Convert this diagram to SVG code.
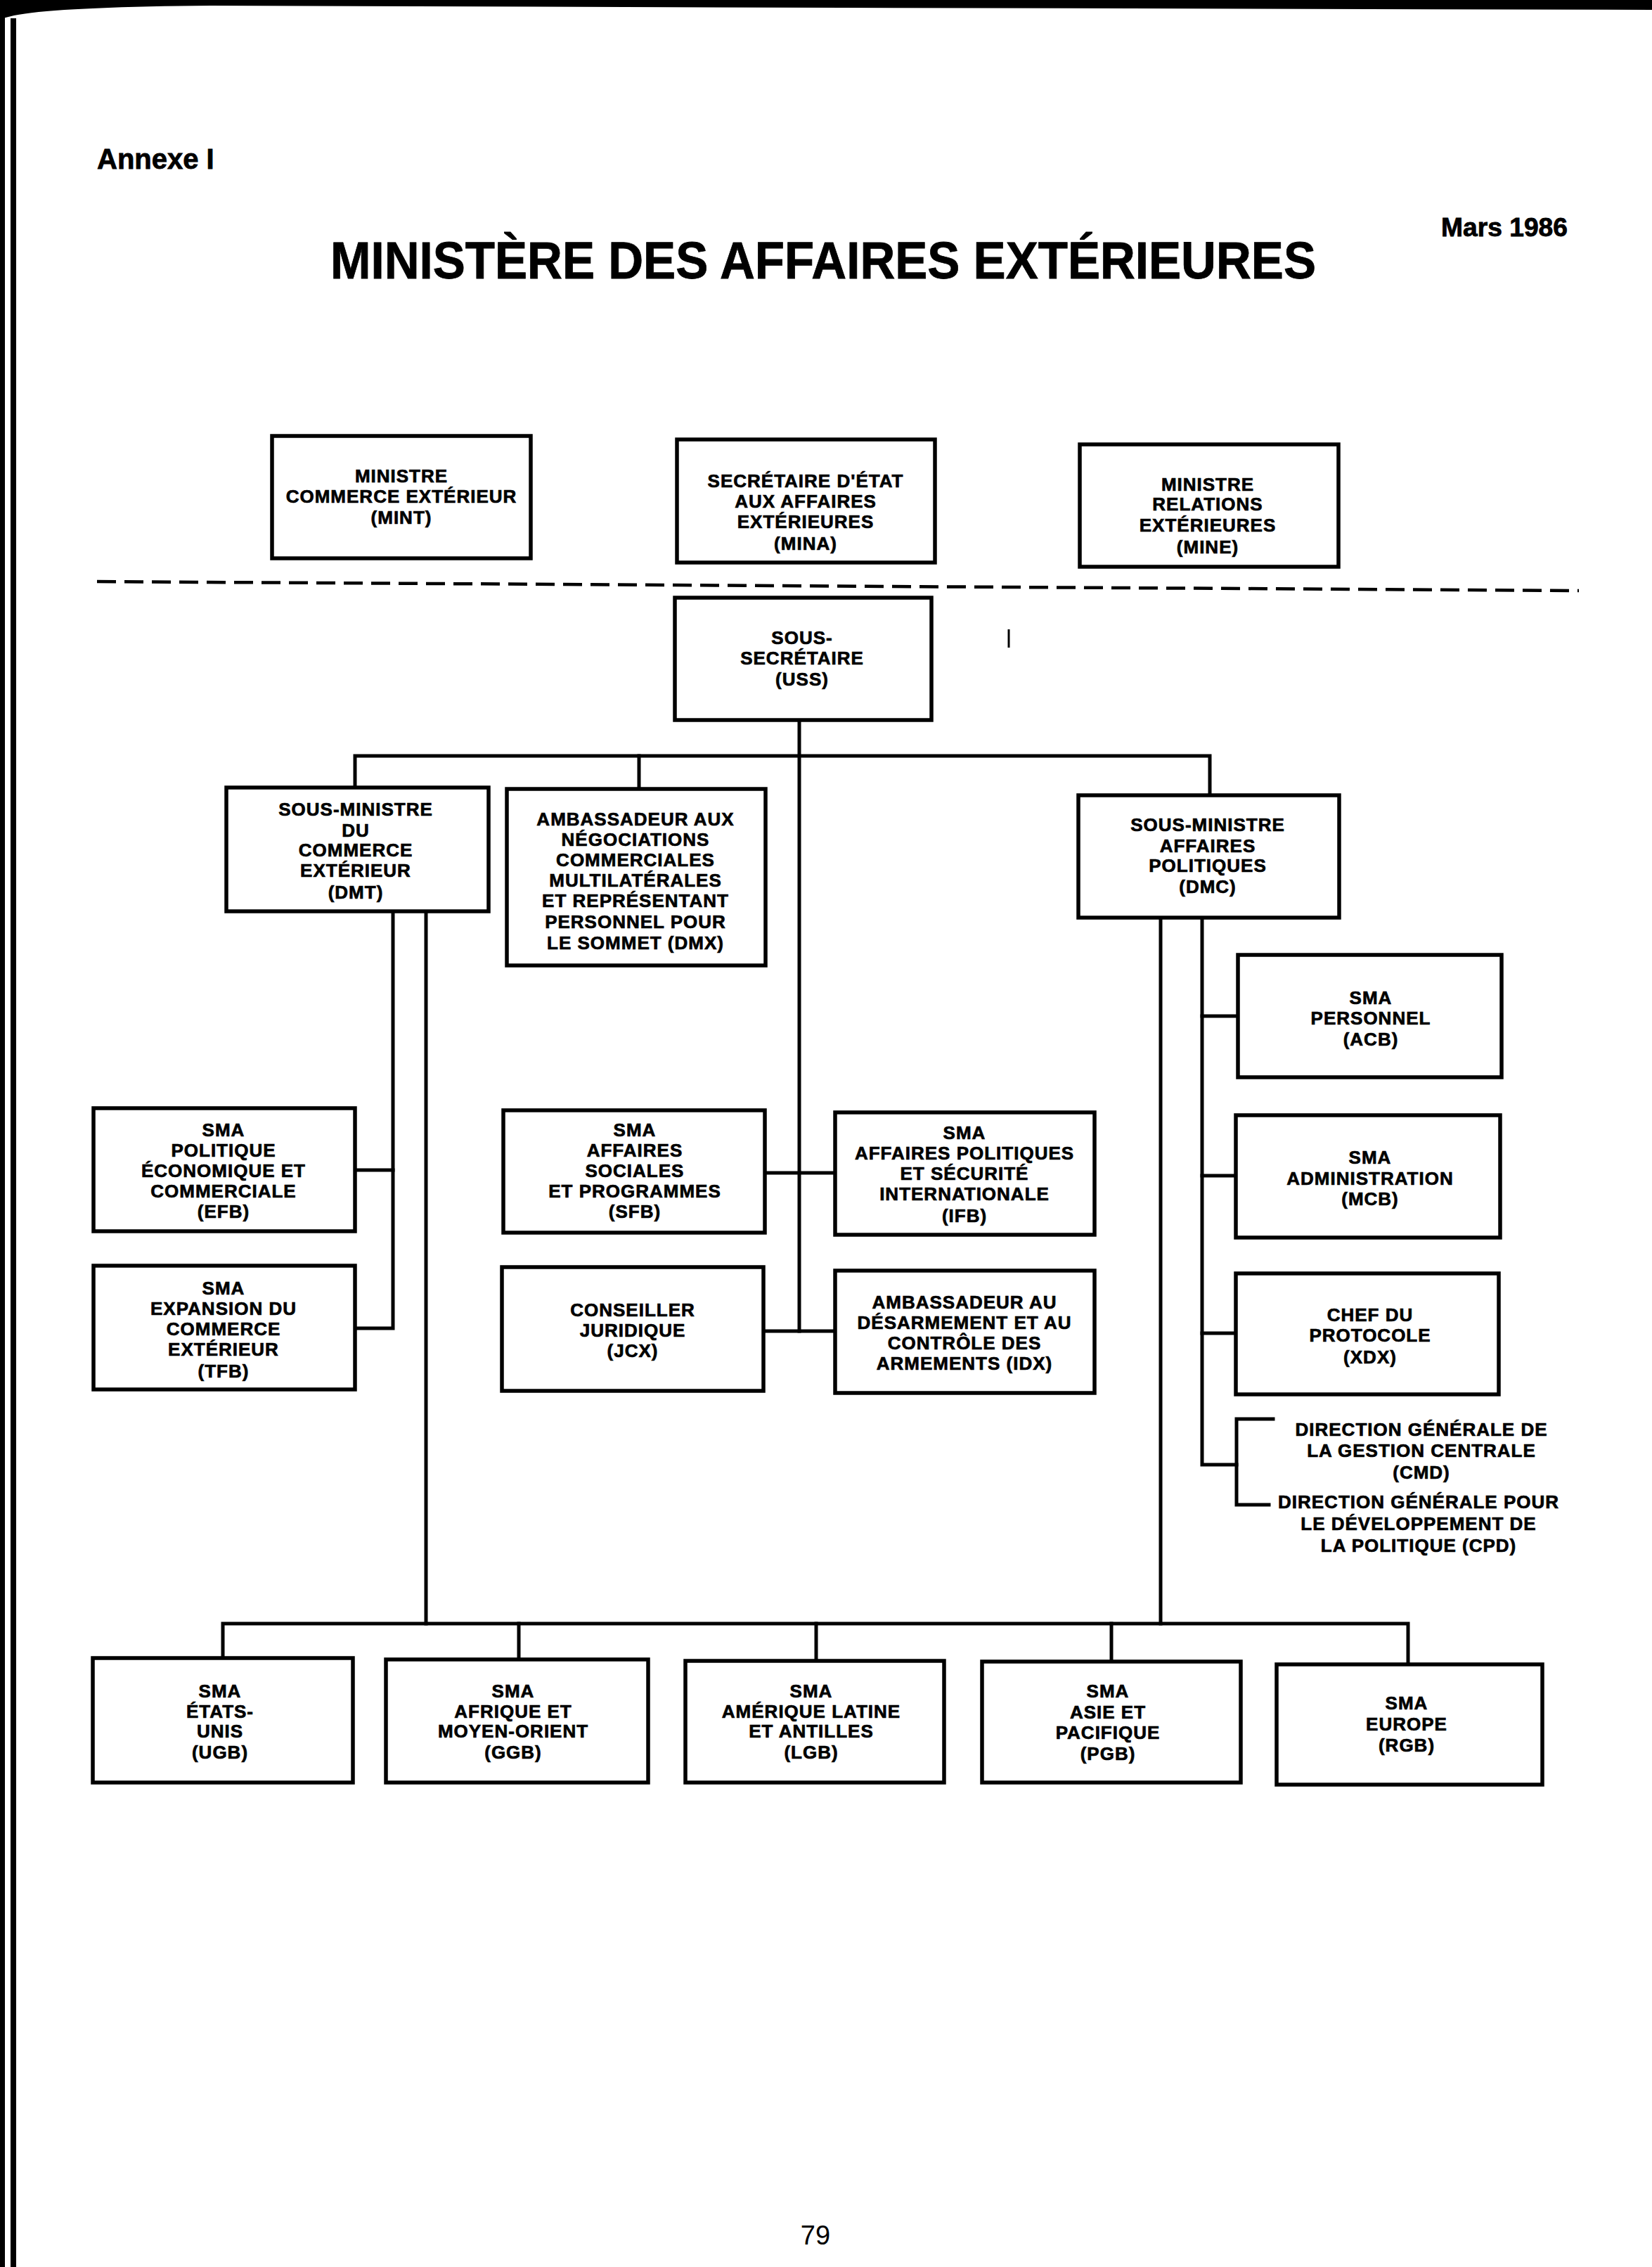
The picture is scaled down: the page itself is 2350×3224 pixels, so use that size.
<svg xmlns="http://www.w3.org/2000/svg" width="2350" height="3224" viewBox="0 0 2350 3224">
<style>
.bg{fill:#fff}
.box{fill:#fff;stroke:#000;stroke-width:5.5}
.ln{stroke:#000;stroke-width:5;fill:none;stroke-linecap:square}
.t{font-family:"Liberation Sans",Arial,sans-serif;font-weight:bold;font-size:26px;letter-spacing:1px;text-anchor:middle;fill:#000;stroke:#000;stroke-width:0.7}
.hd{font-family:"Liberation Sans",Arial,sans-serif;font-weight:bold;fill:#000;stroke:#000;stroke-width:0.8}
</style>
<rect class="bg" x="0" y="0" width="2350" height="3224"/>
<g id="page-edge">
<path d="M0 0 H2350 V14 L1200 11 L300 8 Q80 10 20 22 L0 27 Z" fill="#000"/>
<rect x="0" y="0" width="7" height="3224" fill="#000"/>
<rect x="15" y="26" width="8" height="3198" fill="#000"/>
<line x1="1435" y1="895" x2="1435" y2="921" stroke="#000" stroke-width="3"/>
</g>
<g id="header">
<text class="hd" x="138" y="240" font-size="40">Annexe I</text>
<text class="hd" x="2050" y="336" font-size="36" textLength="180" lengthAdjust="spacingAndGlyphs">Mars 1986</text>
<text class="hd" x="470" y="396" font-size="74" textLength="1402" lengthAdjust="spacingAndGlyphs" stroke-width="1.5">MINISTÈRE DES AFFAIRES EXTÉRIEURES</text>
</g>
<g id="connectors">
<line x1="138" y1="827" x2="2246" y2="840" stroke="#000" stroke-width="4.5" stroke-dasharray="27 12"/>
<path class="ln" d="M1137 1024 V1893"/>
<path class="ln" d="M505 1120 V1075 H1721 V1131"/>
<path class="ln" d="M909 1075 V1122"/>
<path class="ln" d="M1088 1668 H1188"/>
<path class="ln" d="M1086 1893 H1188"/>
<path class="ln" d="M559 1296 V1889 H505"/>
<path class="ln" d="M505 1664 H559"/>
<path class="ln" d="M606 1296 V2309"/>
<path class="ln" d="M1651 1305 V2309"/>
<path class="ln" d="M1710 1305 V2083 H1759"/>
<path class="ln" d="M1710 1445 H1761"/>
<path class="ln" d="M1710 1672 H1758"/>
<path class="ln" d="M1710 1896 H1758"/>
<path class="ln" d="M1811 2018 H1759 V2140 H1805"/>
<path class="ln" d="M317 2358 V2309 H2003 V2367"/>
<path class="ln" d="M738 2309 V2360"/>
<path class="ln" d="M1161 2309 V2362"/>
<path class="ln" d="M1581 2309 V2363"/>
</g>
<g id="MINT"><rect class="box" x="387" y="620" width="368" height="174"/>
<text class="t"><tspan x="571" y="686">MINISTRE</tspan><tspan x="571" y="715">COMMERCE EXTÉRIEUR</tspan><tspan x="571" y="745">(MINT)</tspan></text></g>
<g id="MINA"><rect class="box" x="963" y="625" width="367" height="175"/>
<text class="t"><tspan x="1146" y="693">SECRÉTAIRE D'ÉTAT</tspan><tspan x="1146" y="722">AUX AFFAIRES</tspan><tspan x="1146" y="751">EXTÉRIEURES</tspan><tspan x="1146" y="782">(MINA)</tspan></text></g>
<g id="MINE"><rect class="box" x="1536" y="632" width="368" height="174"/>
<text class="t"><tspan x="1718" y="698">MINISTRE</tspan><tspan x="1718" y="726">RELATIONS</tspan><tspan x="1718" y="756">EXTÉRIEURES</tspan><tspan x="1718" y="787">(MINE)</tspan></text></g>
<g id="USS"><rect class="box" x="960" y="850" width="365" height="174"/>
<text class="t"><tspan x="1141" y="916">SOUS-</tspan><tspan x="1141" y="945">SECRÉTAIRE</tspan><tspan x="1141" y="975">(USS)</tspan></text></g>
<g id="DMT"><rect class="box" x="322" y="1120" width="373" height="176"/>
<text class="t"><tspan x="506" y="1160">SOUS-MINISTRE</tspan><tspan x="506" y="1190">DU</tspan><tspan x="506" y="1218">COMMERCE</tspan><tspan x="506" y="1247">EXTÉRIEUR</tspan><tspan x="506" y="1278">(DMT)</tspan></text></g>
<g id="DMX"><rect class="box" x="721" y="1122" width="368" height="251"/>
<text class="t"><tspan x="904" y="1174">AMBASSADEUR AUX</tspan><tspan x="904" y="1203">NÉGOCIATIONS</tspan><tspan x="904" y="1232">COMMERCIALES</tspan><tspan x="904" y="1261">MULTILATÉRALES</tspan><tspan x="904" y="1290">ET REPRÉSENTANT</tspan><tspan x="904" y="1320">PERSONNEL POUR</tspan><tspan x="904" y="1350">LE SOMMET (DMX)</tspan></text></g>
<g id="DMC"><rect class="box" x="1534" y="1131" width="371" height="174"/>
<text class="t"><tspan x="1718" y="1182">SOUS-MINISTRE</tspan><tspan x="1718" y="1212">AFFAIRES</tspan><tspan x="1718" y="1240">POLITIQUES</tspan><tspan x="1718" y="1270">(DMC)</tspan></text></g>
<g id="ACB"><rect class="box" x="1761" y="1358" width="375" height="174"/>
<text class="t"><tspan x="1950" y="1428">SMA</tspan><tspan x="1950" y="1457">PERSONNEL</tspan><tspan x="1950" y="1487">(ACB)</tspan></text></g>
<g id="EFB"><rect class="box" x="133" y="1576" width="372" height="175"/>
<text class="t"><tspan x="318" y="1616">SMA</tspan><tspan x="318" y="1645">POLITIQUE</tspan><tspan x="318" y="1674">ÉCONOMIQUE ET</tspan><tspan x="318" y="1703">COMMERCIALE</tspan><tspan x="318" y="1732">(EFB)</tspan></text></g>
<g id="SFB"><rect class="box" x="716" y="1579" width="372" height="174"/>
<text class="t"><tspan x="903" y="1616">SMA</tspan><tspan x="903" y="1645">AFFAIRES</tspan><tspan x="903" y="1674">SOCIALES</tspan><tspan x="903" y="1703">ET PROGRAMMES</tspan><tspan x="903" y="1732">(SFB)</tspan></text></g>
<g id="IFB"><rect class="box" x="1188" y="1582" width="369" height="174"/>
<text class="t"><tspan x="1372" y="1620">SMA</tspan><tspan x="1372" y="1649">AFFAIRES POLITIQUES</tspan><tspan x="1372" y="1678">ET SÉCURITÉ</tspan><tspan x="1372" y="1707">INTERNATIONALE</tspan><tspan x="1372" y="1738">(IFB)</tspan></text></g>
<g id="MCB"><rect class="box" x="1758" y="1586" width="376" height="174"/>
<text class="t"><tspan x="1949" y="1655">SMA</tspan><tspan x="1949" y="1685">ADMINISTRATION</tspan><tspan x="1949" y="1714">(MCB)</tspan></text></g>
<g id="TFB"><rect class="box" x="133" y="1800" width="372" height="176"/>
<text class="t"><tspan x="318" y="1841">SMA</tspan><tspan x="318" y="1870">EXPANSION DU</tspan><tspan x="318" y="1899">COMMERCE</tspan><tspan x="318" y="1928">EXTÉRIEUR</tspan><tspan x="318" y="1959">(TFB)</tspan></text></g>
<g id="JCX"><rect class="box" x="714" y="1802" width="372" height="176"/>
<text class="t"><tspan x="900" y="1872">CONSEILLER</tspan><tspan x="900" y="1901">JURIDIQUE</tspan><tspan x="900" y="1930">(JCX)</tspan></text></g>
<g id="IDX"><rect class="box" x="1188" y="1807" width="369" height="174"/>
<text class="t"><tspan x="1372" y="1861">AMBASSADEUR AU</tspan><tspan x="1372" y="1890">DÉSARMEMENT ET AU</tspan><tspan x="1372" y="1919">CONTRÔLE DES</tspan><tspan x="1372" y="1948">ARMEMENTS (IDX)</tspan></text></g>
<g id="XDX"><rect class="box" x="1758" y="1811" width="374" height="172"/>
<text class="t"><tspan x="1949" y="1879">CHEF DU</tspan><tspan x="1949" y="1908">PROTOCOLE</tspan><tspan x="1949" y="1939">(XDX)</tspan></text></g>
<g id="CMD">
<text class="t"><tspan x="2022" y="2042">DIRECTION GÉNÉRALE DE</tspan><tspan x="2022" y="2072">LA GESTION CENTRALE</tspan><tspan x="2022" y="2103">(CMD)</tspan></text></g>
<g id="CPD">
<text class="t"><tspan x="2018" y="2145">DIRECTION GÉNÉRALE POUR</tspan><tspan x="2018" y="2176">LE DÉVELOPPEMENT DE</tspan><tspan x="2018" y="2207">LA POLITIQUE (CPD)</tspan></text></g>
<g id="UGB"><rect class="box" x="132" y="2358" width="370" height="177"/>
<text class="t"><tspan x="313" y="2414">SMA</tspan><tspan x="313" y="2443">ÉTATS-</tspan><tspan x="313" y="2471">UNIS</tspan><tspan x="313" y="2501">(UGB)</tspan></text></g>
<g id="GGB"><rect class="box" x="549" y="2360" width="373" height="175"/>
<text class="t"><tspan x="730" y="2414">SMA</tspan><tspan x="730" y="2443">AFRIQUE ET</tspan><tspan x="730" y="2471">MOYEN-ORIENT</tspan><tspan x="730" y="2501">(GGB)</tspan></text></g>
<g id="LGB"><rect class="box" x="975" y="2362" width="368" height="173"/>
<text class="t"><tspan x="1154" y="2414">SMA</tspan><tspan x="1154" y="2443">AMÉRIQUE LATINE</tspan><tspan x="1154" y="2471">ET ANTILLES</tspan><tspan x="1154" y="2501">(LGB)</tspan></text></g>
<g id="PGB"><rect class="box" x="1397" y="2363" width="368" height="172"/>
<text class="t"><tspan x="1576" y="2414">SMA</tspan><tspan x="1576" y="2444">ASIE ET</tspan><tspan x="1576" y="2473">PACIFIQUE</tspan><tspan x="1576" y="2503">(PGB)</tspan></text></g>
<g id="RGB"><rect class="box" x="1816" y="2367" width="378" height="171"/>
<text class="t"><tspan x="2001" y="2431">SMA</tspan><tspan x="2001" y="2461">EUROPE</tspan><tspan x="2001" y="2491">(RGB)</tspan></text></g>
<g id="footer">
<text x="1160" y="3192" font-family="'Liberation Sans',Arial,sans-serif" font-size="38" text-anchor="middle" fill="#000">79</text>
</g>
</svg>
